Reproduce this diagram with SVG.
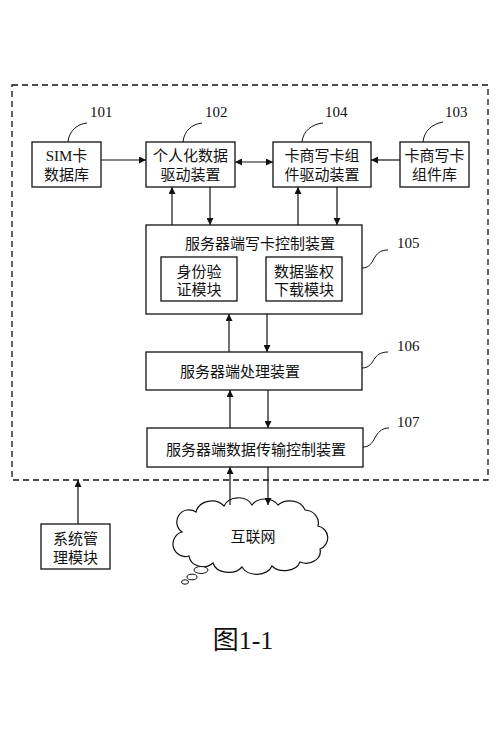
<svg xmlns="http://www.w3.org/2000/svg" width="500" height="732" viewBox="0 0 500 732">
<defs>
<marker id="ah" viewBox="0 0 10 10" refX="10" refY="5" markerWidth="7" markerHeight="7" orient="auto-start-reverse" markerUnits="userSpaceOnUse">
<path d="M0,0 L10,5 L0,10 z" fill="#111"/>
</marker>
<style>
.box{fill:#fff;stroke:#111;stroke-width:1.3}
.t{font-family:"Liberation Serif","Noto Sans CJK SC",serif;font-size:15px;fill:#111;text-anchor:middle}
.n{font-family:"Liberation Serif","Noto Sans CJK SC",serif;font-size:15px;fill:#111}
.c{fill:none;stroke:#111;stroke-width:1.2}
.lead{fill:none;stroke:#111;stroke-width:1}
</style>
</defs>
<rect width="500" height="732" fill="#fff"/>
<g id="boundary">
<rect x="12" y="85" width="476" height="395" fill="none" stroke="#111" stroke-width="1.3" stroke-dasharray="6,4"/>
</g>
<g id="n101">
<rect class="box" x="32" y="142" width="69" height="45"/>
<text class="t" x="66.5" y="161">SIM卡</text>
<text class="t" x="66.5" y="180">数据库</text>
<path class="lead" d="M68,142 C69,131 77,124 87,123"/>
<text class="n" x="90" y="117">101</text>
</g>
<g id="n102">
<rect class="box" x="146" y="142" width="89" height="45"/>
<text class="t" x="190.5" y="161">个人化数据</text>
<text class="t" x="190.5" y="180">驱动装置</text>
<path class="lead" d="M183,142 C184,131 192,124 202,123"/>
<text class="n" x="205" y="117">102</text>
</g>
<g id="n104">
<rect class="box" x="273" y="142" width="98" height="45"/>
<text class="t" x="322" y="161">卡商写卡组</text>
<text class="t" x="322" y="180">件驱动装置</text>
<path class="lead" d="M302,142 C303,131 312,124 323,123"/>
<text class="n" x="325" y="117">104</text>
</g>
<g id="n103">
<rect class="box" x="400" y="142" width="69" height="45"/>
<text class="t" x="434.5" y="161">卡商写卡</text>
<text class="t" x="434.5" y="180">组件库</text>
<path class="lead" d="M423,142 C424,131 432,124 443,122"/>
<text class="n" x="445" y="117">103</text>
</g>
<g id="n105">
<rect class="box" x="146" y="225" width="216" height="89"/>
<text class="t" x="260" y="249">服务器端写卡控制装置</text>
<rect class="box" x="161" y="257" width="76" height="44"/>
<text class="t" x="199" y="277">身份验</text>
<text class="t" x="199" y="295">证模块</text>
<rect class="box" x="266" y="257" width="76" height="44"/>
<text class="t" x="304" y="277">数据鉴权</text>
<text class="t" x="304" y="295">下载模块</text>
<path class="lead" d="M362,268 C370,268 372,262 375,257 C378,252 382,250 388,250"/>
<text class="n" x="397" y="248">105</text>
</g>
<g id="n106">
<rect class="box" x="146" y="352" width="216" height="38"/>
<text class="t" x="240" y="377">服务器端处理装置</text>
<path class="lead" d="M362,368 C370,368 372,362 375,358 C378,354 382,352 388,352"/>
<text class="n" x="397" y="351">106</text>
</g>
<g id="n107">
<rect class="box" x="147" y="428" width="216" height="39"/>
<text class="t" x="256" y="455">服务器端数据传输控制装置</text>
<path class="lead" d="M363,447 C371,447 373,441 376,436 C379,431 383,428 389,428"/>
<text class="n" x="397" y="427">107</text>
</g>
<g id="sysmgmt">
<rect class="box" x="41" y="524" width="69" height="45"/>
<text class="t" x="75.5" y="544">系统管</text>
<text class="t" x="75.5" y="563">理模块</text>
</g>
<g id="internet">
<path fill="#fff" stroke="#111" stroke-width="1.2" d="M182,532 A12,12 0 0 1 196,512 A16,14 0 0 1 224,506 A15,12 0 0 1 252,505 A15,12 0 0 1 278,505 A16,13 0 0 1 305,510 A14,13 0 0 1 318,526 A12,12 0 0 1 320,549 A14,12 0 0 1 300,562 A16,12 0 0 1 272,566 A16,12 0 0 1 242,567 A16,12 0 0 1 213,563 A14,12 0 0 1 189,556 A12,12 0 0 1 182,532 z"/>
<ellipse cx="201" cy="570" rx="7" ry="3.5" fill="#fff" stroke="#111" stroke-width="1"/>
<ellipse cx="192" cy="577" rx="5" ry="2.8" fill="#fff" stroke="#111" stroke-width="1"/>
<ellipse cx="185" cy="582" rx="3.5" ry="2.2" fill="#fff" stroke="#111" stroke-width="1"/>
<text class="t" x="253" y="542">互联网</text>
</g>
<g id="connectors">
<line class="c" x1="101" y1="160" x2="146" y2="160" marker-end="url(#ah)"/>
<line class="c" x1="400" y1="160" x2="371" y2="160" marker-end="url(#ah)"/>
<line class="c" x1="235" y1="162" x2="273" y2="162" marker-start="url(#ah)" marker-end="url(#ah)"/>
<line class="c" x1="172" y1="225" x2="172" y2="187" marker-end="url(#ah)"/>
<line class="c" x1="210" y1="187" x2="210" y2="225" marker-end="url(#ah)"/>
<line class="c" x1="298" y1="225" x2="298" y2="187" marker-end="url(#ah)"/>
<line class="c" x1="337" y1="187" x2="337" y2="225" marker-end="url(#ah)"/>
<line class="c" x1="229" y1="352" x2="229" y2="314" marker-end="url(#ah)"/>
<line class="c" x1="267" y1="314" x2="267" y2="352" marker-end="url(#ah)"/>
<line class="c" x1="230" y1="428" x2="230" y2="390" marker-end="url(#ah)"/>
<line class="c" x1="268" y1="390" x2="268" y2="428" marker-end="url(#ah)"/>
<line class="c" x1="230" y1="505" x2="230" y2="467" marker-end="url(#ah)"/>
<line class="c" x1="268" y1="467" x2="268" y2="505" marker-end="url(#ah)"/>
<line class="c" x1="78" y1="524" x2="78" y2="480" marker-end="url(#ah)"/>
</g>
<text x="243" y="649" font-family="Liberation Serif, Noto Sans CJK SC, serif" font-size="26" fill="#111" text-anchor="middle">图1-1</text>
</svg>
